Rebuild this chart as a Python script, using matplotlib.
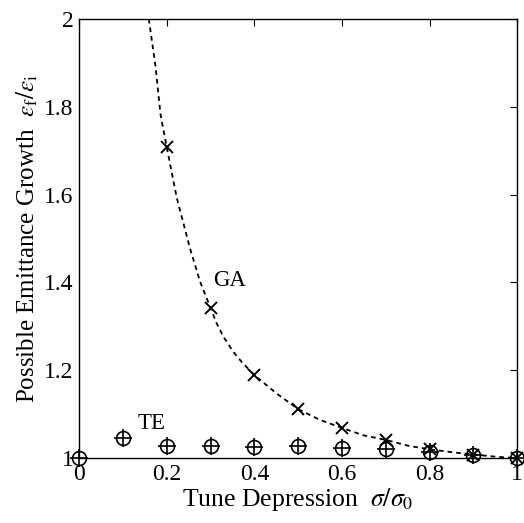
import matplotlib
matplotlib.use("Agg")
import matplotlib.pyplot as plt
from matplotlib.ticker import FormatStrFormatter, MultipleLocator

plt.rcParams["font.family"] = ["Liberation Serif", "DejaVu Serif"]
plt.rcParams["mathtext.fontset"] = "stix"

# GA: dashed fit curve and x markers
ga_curve_x = [0.159, 0.174, 0.186, 0.200, 0.223, 0.253, 0.276, 0.300, 0.313,
              0.329, 0.352, 0.371, 0.400, 0.451, 0.501, 0.550, 0.602, 0.649,
              0.702, 0.752, 0.801, 0.855, 0.904, 0.954, 1.0]
ga_curve_y = [2.0, 1.895, 1.781, 1.708, 1.592, 1.478, 1.402, 1.342, 1.309,
              1.277, 1.242, 1.219, 1.189, 1.147, 1.111, 1.087, 1.068, 1.052,
              1.041, 1.028, 1.020, 1.013, 1.008, 1.003, 1.0]
ga_x = [0.2, 0.3, 0.4, 0.5, 0.6, 0.7, 0.8, 0.9, 1.0]
ga_y = [1.708, 1.342, 1.189, 1.111, 1.068, 1.041, 1.020, 1.008, 1.0]

# TE: circle-plus markers
te_x = [0.0, 0.1, 0.2, 0.3, 0.4, 0.5, 0.6, 0.7, 0.8, 0.9, 1.0]
te_y = [1.0, 1.046, 1.027, 1.027, 1.026, 1.027, 1.024, 1.020, 1.014, 1.007, 1.0]

fig = plt.figure(figsize=(5.24, 5.23), dpi=100)
ax = fig.add_axes([0.151, 0.124, 0.836, 0.840])

ax.plot(ga_curve_x, ga_curve_y, "k", lw=1.3, dashes=(2.6, 2.2))
ax.plot(ga_x, ga_y, "kx", ms=9, mew=1.4, ls="none", clip_on=False)
ax.plot(te_x, te_y, "ko", ms=10, mfc="none", mew=1.2, ls="none", clip_on=False)
ax.plot(te_x, te_y, "k+", ms=13, mew=1.2, ls="none", clip_on=False)

ax.text(0.305, 1.404, "GA", fontsize=16.5, va="center", ha="left")
ax.text(0.133, 1.08, "TE", fontsize=16.5, va="center", ha="left")

ax.set_xlim(0, 1)
ax.set_ylim(1, 2)
ax.xaxis.set_major_locator(MultipleLocator(0.2))
ax.yaxis.set_major_locator(MultipleLocator(0.2))
ax.xaxis.set_major_formatter(FormatStrFormatter("%g"))
ax.yaxis.set_major_formatter(FormatStrFormatter("%g"))
ax.tick_params(direction="in", length=0, labelsize=17, pad=4)
ax.tick_params(top=True, right=True, length=5, width=0.8, which="major")
ax.tick_params(bottom=False, left=False)

ax.set_xlabel(r"Tune Depression  $\sigma/\sigma_0$", fontsize=18.5, labelpad=1)
ax.set_ylabel(r"Possible Emittance Growth  $\varepsilon_{\rm f}/\varepsilon_{\rm i}$",
              fontsize=18, labelpad=3)

for s in ax.spines.values():
    s.set_linewidth(1.0)

fig.savefig("out.png", dpi=100)
